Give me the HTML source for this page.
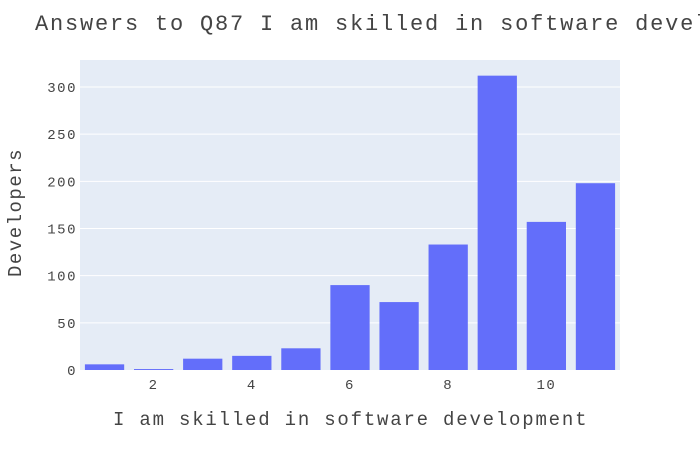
<!DOCTYPE html>
<html><head><meta charset="utf-8"><style>
body{margin:0;background:#fff}
svg{display:block;font-family:"Liberation Mono",monospace}
</style></head><body>
<svg id="chart" width="700" height="450">
<rect x="80" y="60" width="540" height="310" fill="#e5ecf6"/>
<g id="grid"></g><g id="bars"></g><g id="ticks"></g>
<text x="35" y="30" font-size="22" letter-spacing="1.8" fill="#444">Answers to Q87 I am skilled in software development</text>
<text x="113" y="425" font-size="19" letter-spacing="1.8" fill="#444">I am skilled in software development</text>
<text transform="translate(21,277) rotate(-90)" font-size="19" letter-spacing="1.5" fill="#444">Developers</text>
</svg>
<script>
const categories=[1,2,3,4,5,6,7,8,9,10,11];
const values=[6,1,12,15,23,90,72,133,312,157,198];
const yTicks=[0,50,100,150,200,250,300];
const xTicks=[2,4,6,8,10];
const x0=80,w=540,y0=370,yMax=328.6,h=310,ns="http://www.w3.org/2000/svg";
const band=w/categories.length;
const xs=c=>x0+(c-0.5)*band;
const ys=v=>y0-v/yMax*h;
const grid=document.getElementById('grid'),bars=document.getElementById('bars'),ticks=document.getElementById('ticks');
yTicks.forEach(t=>{
 if(t>0){const l=document.createElementNS(ns,'line');
 l.setAttribute('x1',x0);l.setAttribute('x2',x0+w);l.setAttribute('y1',ys(t));l.setAttribute('y2',ys(t));
 l.setAttribute('stroke','#fff');
 
 
 grid.appendChild(l);}
 const tx=document.createElementNS(ns,'text');
 tx.setAttribute('x',77);tx.setAttribute('y',ys(t)+5);tx.setAttribute('text-anchor','end');
 tx.setAttribute('font-size','14');tx.setAttribute('letter-spacing','1.5');tx.setAttribute('fill','#444');tx.textContent=t;
 
 
 ticks.appendChild(tx);
});
xTicks.forEach(t=>{
 const tx=document.createElementNS(ns,'text');
 tx.setAttribute('x',xs(t));tx.setAttribute('y',389);tx.setAttribute('text-anchor','middle');
 tx.setAttribute('font-size','14');tx.setAttribute('letter-spacing','1.5');tx.setAttribute('fill','#444');tx.textContent=t;
 
 
 ticks.appendChild(tx);
});
categories.forEach((c,i)=>{
 const r=document.createElementNS(ns,'rect');
 const bw=band*0.8;
 r.setAttribute('x',xs(c)-bw/2);r.setAttribute('width',bw);
 r.setAttribute('y',ys(values[i]));r.setAttribute('height',y0-ys(values[i]));
 r.setAttribute('fill','#636efa');
 
 
 bars.appendChild(r);
});
</script>
</body></html>
